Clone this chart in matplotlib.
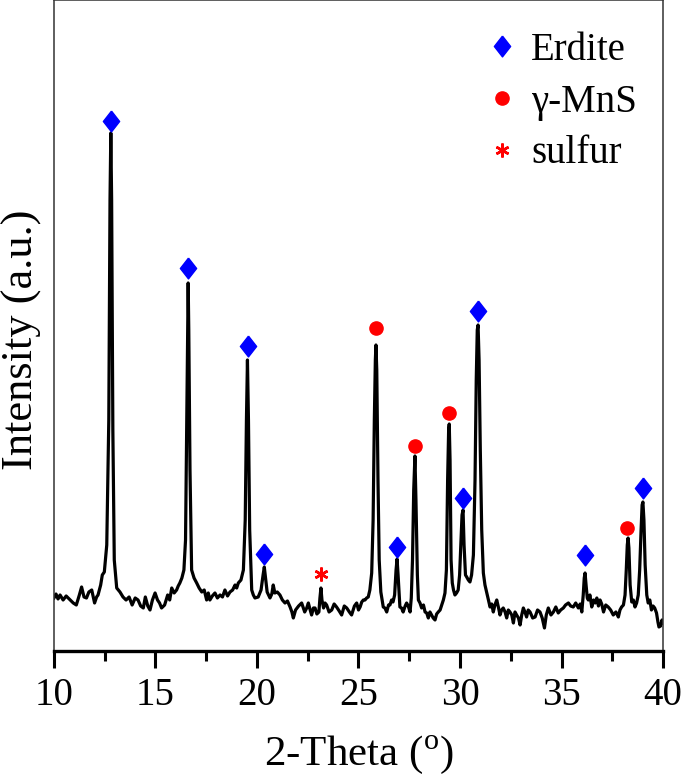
import matplotlib
matplotlib.use("Agg")
import matplotlib.pyplot as plt

plt.rcParams['font.family'] = ['Liberation Serif', 'DejaVu Serif']
plt.rcParams['mathtext.fontset'] = 'custom'
plt.rcParams['mathtext.rm'] = 'Liberation Serif'

# XRD pattern (2-theta in degrees, intensity in a.u.)
two_theta = [
    10.00, 10.10, 10.20, 10.30, 10.45, 10.60, 10.80, 10.95, 11.10, 11.25, 11.36, 11.48,
    11.60, 11.72, 11.86, 12.00, 12.10, 12.17, 12.30, 12.38, 12.48, 12.60, 12.70, 12.76,
    12.80, 12.84, 12.90, 12.97, 13.09, 13.25, 13.40, 13.55, 13.70, 13.85, 14.00, 14.14,
    14.27, 14.40, 14.50, 14.62, 14.73, 14.85, 14.98, 15.10, 15.20, 15.30, 15.45, 15.60,
    15.70, 15.80, 15.92, 16.04, 16.12, 16.20, 16.30, 16.40, 16.48, 16.54, 16.58, 16.61,
    16.64, 16.70, 16.78, 16.90, 17.03, 17.15, 17.28, 17.40, 17.52, 17.60, 17.68, 17.80,
    17.93, 18.05, 18.18, 18.30, 18.42, 18.55, 18.67, 18.80, 18.92, 19.00, 19.08, 19.21,
    19.33, 19.42, 19.48, 19.53, 19.58, 19.64, 19.74, 19.82, 19.90, 20.06, 20.20, 20.30,
    20.36, 20.42, 20.50, 20.64, 20.73, 20.80, 20.88, 21.00, 21.13, 21.25, 21.38, 21.50,
    21.63, 21.72, 21.79, 21.90, 22.05, 22.20, 22.35, 22.45, 22.53, 22.62, 22.69, 22.78,
    22.86, 22.95, 23.05, 23.10, 23.15, 23.20, 23.28, 23.35, 23.43, 23.55, 23.68, 23.80,
    23.92, 24.05, 24.17, 24.30, 24.42, 24.55, 24.66, 24.80, 24.91, 25.00, 25.08, 25.16,
    25.24, 25.32, 25.40, 25.48, 25.56, 25.65, 25.72, 25.78, 25.83, 25.86, 25.90, 25.96,
    26.02, 26.10, 26.22, 26.30, 26.39, 26.48, 26.55, 26.63, 26.70, 26.78, 26.85, 26.90,
    26.95, 27.04, 27.12, 27.20, 27.30, 27.37, 27.45, 27.54, 27.60, 27.66, 27.72, 27.78,
    27.83, 27.90, 27.95, 28.03, 28.11, 28.20, 28.28, 28.36, 28.44, 28.52, 28.60, 28.68,
    28.77, 28.85, 28.93, 29.02, 29.10, 29.18, 29.26, 29.33, 29.39, 29.44, 29.47, 29.51,
    29.56, 29.62, 29.68, 29.75, 29.83, 29.91, 29.98, 30.05, 30.10, 30.15, 30.20, 30.27,
    30.33, 30.41, 30.49, 30.57, 30.66, 30.74, 30.80, 30.85, 30.89, 30.94, 31.00, 31.07,
    31.15, 31.23, 31.31, 31.40, 31.48, 31.56, 31.64, 31.72, 31.81, 31.90, 31.97, 32.05,
    32.13, 32.22, 32.30, 32.38, 32.46, 32.55, 32.63, 32.71, 32.79, 32.88, 32.96, 33.04,
    33.12, 33.20, 33.28, 33.36, 33.45, 33.58, 33.70, 33.82, 33.94, 34.05, 34.16, 34.25,
    34.35, 34.48, 34.60, 34.72, 34.84, 34.96, 35.09, 35.20, 35.34, 35.45, 35.58, 35.70,
    35.83, 35.92, 36.00, 36.07, 36.12, 36.16, 36.21, 36.27, 36.32, 36.40, 36.49, 36.58,
    36.66, 36.74, 36.82, 36.90, 36.98, 37.07, 37.18, 37.30, 37.42, 37.55, 37.68, 37.80,
    37.88, 37.96, 38.05, 38.13, 38.19, 38.24, 38.28, 38.32, 38.38, 38.46, 38.54, 38.62,
    38.70, 38.78, 38.85, 38.92, 38.97, 39.01, 39.06, 39.12, 39.20, 39.27, 39.35, 39.43,
    39.51, 39.59, 39.68, 39.75, 39.80, 39.88, 39.95, 40.00,
]
intensity = [
    53, 57, 52, 56, 51, 55, 51, 48, 46, 56, 64, 54,
    53, 59, 61, 48, 54, 56, 66, 76, 79, 106, 231, 451,
    518, 451, 221, 91, 63, 59, 54, 51, 54, 46, 53, 51,
    45, 43, 54, 45, 41, 51, 58, 51, 48, 43, 46, 56,
    51, 63, 58, 61, 65, 68, 73, 81, 111, 231, 321, 368,
    321, 181, 81, 73, 68, 63, 59, 61, 51, 58, 51, 55,
    58, 53, 56, 54, 61, 55, 59, 61, 66, 63, 68, 71,
    81, 131, 231, 291, 231, 121, 61, 56, 53, 54, 61, 76,
    84, 73, 59, 53, 57, 66, 58, 59, 56, 51, 48, 50,
    44, 39, 33, 41, 45, 48, 39, 43, 48, 41, 36, 43,
    43, 37, 39, 53, 63, 51, 43, 48, 46, 39, 41, 47,
    44, 40, 36, 45, 43, 39, 36, 45, 48, 41, 44, 49,
    51, 51, 53, 54, 61, 78, 131, 231, 291, 306, 281, 171,
    91, 59, 44, 43, 39, 46, 46, 51, 49, 56, 81, 92,
    76, 44, 43, 39, 45, 48, 45, 39, 53, 91, 161, 195,
    151, 76, 51, 48, 43, 46, 39, 38, 33, 39, 36, 33,
    31, 37, 39, 41, 46, 51, 58, 81, 171, 221, 227, 191,
    91, 68, 61, 56, 58, 61, 76, 111, 136, 141, 106, 76,
    74, 71, 69, 76, 96, 171, 271, 321, 326, 291, 201, 121,
    78, 66, 59, 51, 44, 47, 39, 46, 51, 43, 36, 41,
    43, 39, 33, 41, 39, 36, 28, 39, 36, 33, 26, 36,
    43, 39, 34, 41, 39, 33, 34, 41, 39, 33, 23, 36,
    43, 36, 39, 44, 38, 41, 43, 46, 48, 45, 44, 48,
    43, 47, 39, 56, 73, 78, 66, 53, 51, 56, 44, 51,
    48, 53, 45, 51, 47, 39, 46, 44, 41, 36, 39, 34,
    41, 44, 46, 56, 81, 106, 113, 103, 66, 49, 51, 44,
    48, 56, 81, 121, 146, 149, 131, 86, 56, 48, 51, 41,
    45, 43, 38, 29, 24, 25, 31, 28,
]

# phase markers placed above the peaks
erdite_x = [12.8, 16.6, 19.55, 20.35, 26.88, 30.15, 30.9, 36.15, 39.0]
erdite_y = [530, 383, 305, 97, 104, 153, 340, 96, 163]
mns_x = [25.86, 27.78, 29.46, 38.25]
mns_y = [323, 205, 238, 123]
sulfur_x = [23.15]
sulfur_y = [77]

diamond = [(0, 1), (0.78, 0), (0, -1), (-0.78, 0), (0, 1)]

fig = plt.figure(figsize=(6.85, 7.8), dpi=100)
ax = fig.add_axes([0.0788, 0.1654, 0.8891, 0.8346])

ax.plot(two_theta, intensity, color='black', lw=2.3, zorder=2)
ax.plot(erdite_x, erdite_y, ls='none', marker=diamond, ms=15, color='#0000ff',
        mec='#0000ff', label='Erdite', zorder=3)
ax.plot(mns_x, mns_y, ls='none', marker='o', ms=9.5, color='#ff0000',
        mec='#ff0000', label='γ-MnS', zorder=3)
ax.plot(sulfur_x, sulfur_y, ls='none', marker=(6, 2, 0), ms=10, color='#ff0000',
        mec='#ff0000', mew=1.8, label='sulfur', zorder=3)

ax.set_xlim(10, 40)
ax.set_ylim(0, 651)
ax.set_xticks([10, 15, 20, 25, 30, 35, 40])
ax.set_xticks([12.5, 17.5, 22.5, 27.5, 32.5, 37.5], minor=True)
ax.set_yticks([])
ax.tick_params(axis='x', which='major', direction='out', length=12, width=2.2,
               labelsize=28, pad=7)
ax.tick_params(axis='x', which='minor', direction='out', length=7, width=2.2)

for side in ['left', 'right', 'top']:
    ax.spines[side].set_linewidth(1.1)
    ax.spines[side].set_color('#333333')
ax.spines['bottom'].set_linewidth(2.4)

ax.set_xlabel('2-Theta ($^\\mathrm{o}$)', fontsize=31, labelpad=14)
ax.set_ylabel('Intensity (a.u.)', fontsize=32)
ax.yaxis.set_label_coords(-0.02, 0.478)

ax.legend(loc='upper right', bbox_to_anchor=(1.01, 1.0), frameon=False, fontsize=28,
          handlelength=0.6, handletextpad=0.45, labelspacing=0.38, borderaxespad=0.42)

fig.savefig('out.png', dpi=100)
